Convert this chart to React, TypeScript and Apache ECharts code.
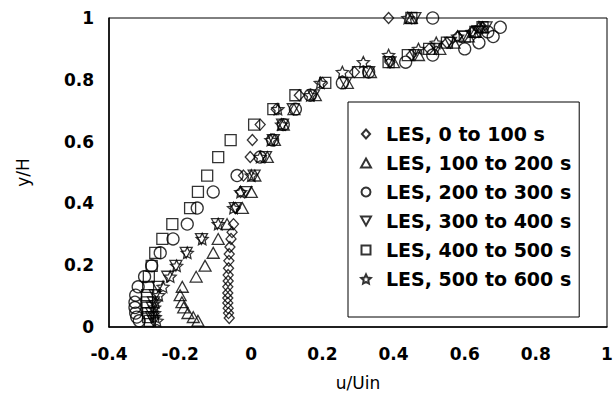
import React, { useEffect, useRef } from "react";
import * as echarts from "echarts";

// y/H rows shared by most series
const rows = [0.02, 0.032, 0.045, 0.063, 0.08, 0.103, 0.13, 0.163, 0.198, 0.24, 0.285, 0.333, 0.385, 0.437, 0.49, 0.55, 0.605, 0.655, 0.705, 0.75, 0.79, 0.825, 0.857, 0.88, 0.9, 0.92, 0.94, 0.955, 0.97, 1.0];
// y/H rows for the first series
const rowsD = [0.029, 0.045, 0.061, 0.078, 0.094, 0.11, 0.13, 0.149, 0.168, 0.19, 0.214, 0.236, 0.259, 0.285, 0.307, 0.333, 0.385, 0.437, 0.49, 0.55, 0.605, 0.655, 0.705, 0.75, 0.79, 0.825, 0.857, 0.88, 0.9, 0.92, 0.94, 0.955, 0.97, 1.0];

const uDiamond = [-0.062, -0.064, -0.065, -0.066, -0.066, -0.066, -0.066, -0.065, -0.065, -0.064, -0.063, -0.062, -0.06, -0.057, -0.054, -0.05, -0.045, -0.03, -0.022, -0.003, 0.003, 0.025, 0.07, 0.135, 0.2, 0.29, 0.39, 0.45, 0.5, 0.55, 0.58, 0.62, 0.65, 0.386];
const uTriangle = [-0.15, -0.163, -0.178, -0.19, -0.195, -0.2, -0.194, -0.155, -0.13, -0.107, -0.093, -0.068, -0.025, 0.0, 0.01, 0.045, 0.065, 0.09, 0.12, 0.18, 0.27, 0.335, 0.4, 0.47, 0.53, 0.57, 0.61, 0.63, 0.65, 0.45];
const uCircle = [-0.315, -0.322, -0.325, -0.327, -0.327, -0.325, -0.318, -0.3, -0.28, -0.256, -0.22, -0.18, -0.152, -0.107, -0.04, 0.025, 0.06, 0.09, 0.124, 0.166, 0.256, 0.33, 0.434, 0.51, 0.6, 0.64, 0.68, 0.665, 0.7, 0.51];
const uInvTriangle = [-0.275, -0.28, -0.28, -0.278, -0.275, -0.27, -0.262, -0.235, -0.212, -0.183, -0.14, -0.095, -0.045, -0.015, 0.008, 0.04, 0.062, 0.088, 0.118, 0.175, 0.265, 0.33, 0.39, 0.46, 0.52, 0.56, 0.6, 0.64, 0.66, 0.46];
const uSquare = [-0.285, -0.29, -0.29, -0.292, -0.293, -0.293, -0.29, -0.288, -0.28, -0.27, -0.25, -0.222, -0.172, -0.15, -0.124, -0.093, -0.058, 0.008, 0.062, 0.124, 0.208, 0.3, 0.386, 0.44, 0.5, 0.55, 0.6, 0.63, 0.65, 0.45];
const uStar = [-0.265, -0.27, -0.272, -0.272, -0.27, -0.26, -0.248, -0.228, -0.21, -0.18, -0.138, -0.093, -0.05, -0.03, 0.0, 0.025, 0.055, 0.085, 0.075, 0.166, 0.194, 0.256, 0.315, 0.386, 0.47, 0.52, 0.58, 0.62, 0.64, 0.44];

const seriesNames = ["LES, 0 to 100 s", "LES, 100 to 200 s", "LES, 200 to 300 s", "LES, 300 to 400 s", "LES, 400 to 500 s", "LES, 500 to 600 s"];
const xTicks = { min: -0.4, max: 1, interval: 0.2 };
const yTicks = { min: 0, max: 1, interval: 0.2 };

const STAR = "path://M50 0 L64.11 30.58 L97.55 34.55 L72.83 57.42 L79.39 90.45 L50 74 L20.61 90.45 L27.17 57.42 L2.45 34.55 L35.89 30.58 Z";
const INV_TRI = "path://M0 0 L100 0 L50 90 Z";
const TRI = "path://M50 0 L100 90 L0 90 Z";
const DIAMOND = "path://M50 0 L100 55 L50 110 L0 55 Z";
const SQUARE = "path://M0 0 L100 0 L100 100 L0 100 Z";

const pair = (us: number[], ys: number[]) => us.map((u, i) => [u, ys[i]]);

export default function App() {
  const ref = useRef<HTMLDivElement>(null);
  useEffect(() => {
    if (!ref.current) return;
    const chart = echarts.init(ref.current, undefined, { renderer: "svg" });
    const itemStyle = { color: "rgba(255,255,255,0)", borderColor: "#000", borderWidth: 1.3 };
    const mk = (name: string, data: number[][], symbol: string, size: number) => ({
      type: "scatter",
      name,
      data,
      symbol,
      symbolSize: size,
      symbolKeepAspect: true,
      itemStyle,
      emphasis: { disabled: true },
    });
    const font = "DejaVu Sans";
    chart.setOption({
      animation: false,
      backgroundColor: "#fff",
      grid: { left: 109, top: 18, right: 9, bottom: 77, show: true, borderColor: "#000", borderWidth: 1, backgroundColor: "transparent" },
      xAxis: {
        type: "value",
        min: xTicks.min,
        max: xTicks.max,
        interval: xTicks.interval,
        name: "u/Uin",
        nameLocation: "middle",
        nameGap: 47,
        nameTextStyle: { fontFamily: font, fontSize: 17, color: "#000" },
        axisLine: { show: true, onZero: false, lineStyle: { color: "#000", width: 1.5 } },
        axisTick: { show: false },
        splitLine: { show: false },
        axisLabel: { fontFamily: font, fontWeight: "bold", fontSize: 17, color: "#000", margin: 18 },
      },
      yAxis: {
        type: "value",
        min: yTicks.min,
        max: yTicks.max,
        interval: yTicks.interval,
        name: "y/H",
        nameLocation: "middle",
        nameGap: 78,
        nameTextStyle: { fontFamily: font, fontSize: 17, color: "#000" },
        axisLine: { show: true, onZero: false, lineStyle: { color: "#000", width: 1.5 } },
        axisTick: { show: false },
        splitLine: { show: false },
        axisLabel: { fontFamily: font, fontWeight: "bold", fontSize: 17, color: "#000", margin: 15 },
      },
      legend: {
        orient: "vertical",
        left: 348,
        top: 102,
        padding: [22, 8, 28, 12],
        itemWidth: 10,
        itemHeight: 9,
        itemGap: 9,
        backgroundColor: "#fff",
        borderColor: "#000",
        borderWidth: 1,
        textStyle: { fontFamily: font, fontWeight: "bold", fontSize: 19, lineHeight: 20, color: "#000", padding: [0, 0, 0, 10] },
        data: seriesNames,
      },
      series: [
        mk(seriesNames[0], pair(uDiamond, rowsD), DIAMOND, 11),
        mk(seriesNames[1], pair(uTriangle, rows), TRI, 12),
        mk(seriesNames[2], pair(uCircle, rows), "circle", 12),
        mk(seriesNames[3], pair(uInvTriangle, rows), INV_TRI, 12),
        mk(seriesNames[4], pair(uSquare, rows), SQUARE, 11),
        mk(seriesNames[5], pair(uStar, rows), STAR, 12),
      ],
    });
    return () => chart.dispose();
  }, []);
  return <div ref={ref} style={{ position: "fixed", left: 0, top: 0, width: 616, height: 404, background: "#fff" }} />;
}
